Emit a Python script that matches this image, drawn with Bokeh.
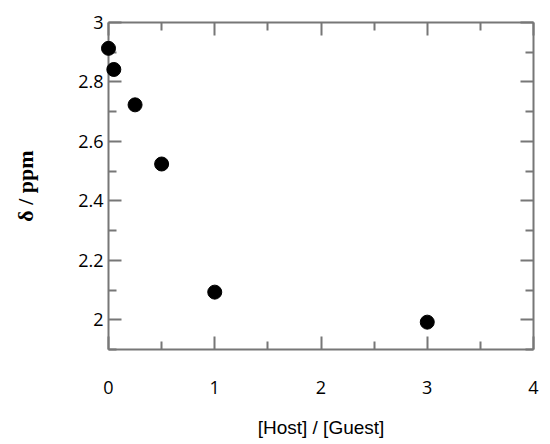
from bokeh.plotting import figure
from bokeh.models import LinearAxis, FixedTicker, Range1d
from bokeh.embed import file_html
from bokeh.resources import INLINE

# data
ratio = [0.0, 0.05, 0.25, 0.5, 1.0, 3.0]
shift = [2.913, 2.842, 2.723, 2.524, 2.093, 1.992]

x_major = [0, 1, 2, 3, 4]
x_minor = [0.5, 1.5, 2.5, 3.5]
y_major = [2.0, 2.2, 2.4, 2.6, 2.8, 3.0]
y_minor = [1.9, 2.1, 2.3, 2.5, 2.7, 2.9]

AX = "#777777"

p = figure(width=542, height=436, output_backend="svg", toolbar_location=None,
           x_range=Range1d(0, 4), y_range=Range1d(1.9, 3.0),
           x_axis_location=None, y_axis_location=None)
p.frame_width = 425
p.frame_height = 327
p.min_border_left = 108
p.min_border_right = 9
p.min_border_top = 22
p.min_border_bottom = 87
p.xgrid.visible = False
p.ygrid.visible = False
p.outline_line_color = None
p.background_fill_color = "white"
p.border_fill_color = "white"

def style(ax, show_labels):
    ax.axis_line_color = AX
    ax.axis_line_width = 2
    ax.major_tick_line_color = AX
    ax.minor_tick_line_color = AX
    ax.major_tick_line_width = 2
    ax.minor_tick_line_width = 2
    ax.major_tick_in = 13
    ax.major_tick_out = 0
    ax.minor_tick_in = 8
    ax.minor_tick_out = 0
    if not show_labels:
        ax.major_label_text_font_size = "0px"
        ax.major_label_text_color = None
        ax.major_label_standoff = 0
    else:
        ax.major_label_text_font = "Open Sans"
        ax.major_label_text_font_size = "18px"
        ax.major_label_text_color = "black"

xt = FixedTicker(ticks=x_major, minor_ticks=x_minor)
yt = FixedTicker(ticks=y_major, minor_ticks=y_minor)

bottom = LinearAxis(ticker=xt)
style(bottom, True)
bottom.major_label_standoff = 31
bottom.axis_label = "[Host] / [Guest]"
bottom.axis_label_text_font = "Liberation Sans"
bottom.axis_label_text_font_size = "19px"
bottom.axis_label_text_font_style = "normal"
bottom.axis_label_text_color = "black"
bottom.axis_label_standoff = 20
p.add_layout(bottom, "below")

left = LinearAxis(ticker=yt)
style(left, True)
left.major_label_standoff = 5
left.major_label_overrides = {3.0: "3", 2.0: "2"}
left.axis_label = "δ / ppm"
left.axis_label_text_font = "Liberation Serif"
left.axis_label_text_font_size = "22px"
left.axis_label_text_font_style = "bold"
left.axis_label_text_color = "black"
left.axis_label_standoff = 37
p.add_layout(left, "left")

top = LinearAxis(ticker=xt)
style(top, False)
p.add_layout(top, "above")

right = LinearAxis(ticker=yt)
style(right, False)
p.add_layout(right, "right")

p.scatter(ratio, shift, size=14, fill_color="black", line_color="black",
          level="overlay")

open("out.html", "w").write(file_html(p, INLINE))
